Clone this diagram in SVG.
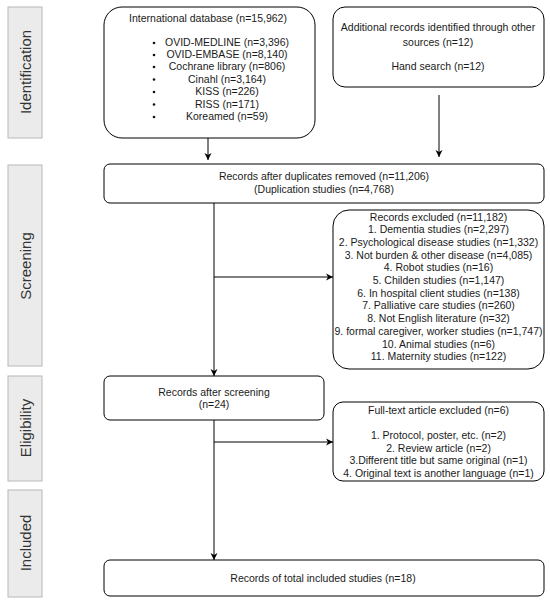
<svg xmlns="http://www.w3.org/2000/svg" width="550" height="603" viewBox="0 0 550 603">
<defs>
<marker id="ah" markerWidth="8" markerHeight="8" refX="7" refY="4" orient="auto" markerUnits="userSpaceOnUse">
<path d="M0,0.5 L7,4 L0,7.5 L2,4 Z" fill="#000"/>
</marker>
<style>
.stage{fill:#ebebeb;stroke:#b8b8b8;stroke-width:1}
.stl{font-family:"Liberation Sans",Arial,sans-serif;font-size:15px;fill:#333;text-anchor:middle}
.box{fill:#fff;stroke:#000;stroke-width:1}
.t{font-family:"Liberation Sans",Arial,sans-serif;font-size:10.5px;fill:#1a1a1a;text-anchor:middle}
.c{stroke:#000;stroke-width:1;fill:none}
</style>
</defs>
<rect width="550" height="603" fill="#fff"/>
<g id="stages">
<g id="stage-identification"><rect class="stage" x="8" y="7" width="34" height="131"/><text class="stl" transform="translate(30.5,72) rotate(-90)">Identification</text></g>
<g id="stage-screening"><rect class="stage" x="8" y="165" width="34" height="201"/><text class="stl" transform="translate(30.5,266) rotate(-90)">Screening</text></g>
<g id="stage-eligibility"><rect class="stage" x="8" y="376" width="34" height="105"/><text class="stl" transform="translate(30.5,428) rotate(-90)">Eligibility</text></g>
<g id="stage-included"><rect class="stage" x="8" y="490" width="34" height="107"/><text class="stl" transform="translate(30.5,543) rotate(-90)">Included</text></g>
</g>
<g id="connectors">
<line class="c" x1="208" y1="138" x2="208" y2="160" marker-end="url(#ah)"/>
<line class="c" x1="439" y1="95" x2="439" y2="157" marker-end="url(#ah)"/>
<line class="c" x1="214" y1="203" x2="214" y2="376" marker-end="url(#ah)"/>
<line class="c" x1="214" y1="277" x2="333" y2="277" marker-end="url(#ah)"/>
<line class="c" x1="214" y1="420" x2="214" y2="560" marker-end="url(#ah)"/>
<line class="c" x1="214" y1="442" x2="333" y2="442" marker-end="url(#ah)"/>
</g>
<g id="intl">
<rect class="box" x="104" y="7" width="211" height="131" rx="18"/>
<text class="t" x="208" y="22">International database (n=15,962)</text>
<g fill="#111"><circle cx="154" cy="43" r="1.3"/><circle cx="154" cy="55" r="1.3"/><circle cx="154" cy="67" r="1.3"/><circle cx="154" cy="79.5" r="1.3"/><circle cx="154" cy="92" r="1.3"/><circle cx="154" cy="104.5" r="1.3"/><circle cx="154" cy="117" r="1.3"/></g>
<text class="t" x="227" y="46">OVID-MEDLINE (n=3,396)</text>
<text class="t" x="227" y="58">OVID-EMBASE (n=8,140)</text>
<text class="t" x="227" y="70">Cochrane library (n=806)</text>
<text class="t" x="227" y="82.5">Cinahl (n=3,164)</text>
<text class="t" x="227" y="95">KISS (n=226)</text>
<text class="t" x="227" y="107.5">RISS (n=171)</text>
<text class="t" x="227" y="120">Koreamed (n=59)</text>
</g>
<g id="additional">
<rect class="box" x="333" y="7" width="211" height="80" rx="12"/>
<text class="t" x="438" y="31">Additional records identified through other</text>
<text class="t" x="438" y="46">sources (n=12)</text>
<text class="t" x="438" y="69.5">Hand search (n=12)</text>
</g>
<g id="duplicates">
<rect class="box" x="104" y="164" width="440" height="39" rx="6"/>
<text class="t" x="324" y="180">Records after duplicates removed (n=11,206)</text>
<text class="t" x="324" y="193">(Duplication studies (n=4,768)</text>
</g>
<g id="excluded">
<rect class="box" x="333" y="210" width="211" height="159" rx="16"/>
<text class="t" x="438.5" y="220.5">Records excluded (n=11,182)</text>
<text class="t" x="438.5" y="233.2">1. Dementia studies (n=2,297)</text>
<text class="t" x="438.5" y="245.9">2. Psychological disease studies (n=1,332)</text>
<text class="t" x="438.5" y="258.6">3. Not burden &amp; other disease (n=4,085)</text>
<text class="t" x="438.5" y="271.3">4. Robot studies (n=16)</text>
<text class="t" x="438.5" y="284">5. Childen studies (n=1,147)</text>
<text class="t" x="438.5" y="296.7">6. In hospital client studies (n=138)</text>
<text class="t" x="438.5" y="309.4">7. Palliative care studies (n=260)</text>
<text class="t" x="438.5" y="322.1">8. Not English literature (n=32)</text>
<text class="t" x="438.5" y="334.8">9. formal caregiver, worker studies (n=1,747)</text>
<text class="t" x="438.5" y="347.5">10. Animal studies (n=6)</text>
<text class="t" x="438.5" y="360.2">11. Maternity studies (n=122)</text>
</g>
<g id="after-screening">
<rect class="box" x="104" y="376" width="220" height="44" rx="6"/>
<text class="t" x="214" y="396">Records after screening</text>
<text class="t" x="214" y="408">(n=24)</text>
</g>
<g id="fulltext">
<rect class="box" x="333" y="402" width="211" height="79" rx="10"/>
<text class="t" x="438.5" y="413.5">Full-text article excluded (n=6)</text>
<text class="t" x="438.5" y="439">1. Protocol, poster, etc. (n=2)</text>
<text class="t" x="438.5" y="451.5">2. Review article (n=2)</text>
<text class="t" x="438.5" y="464">3.Different title but same original (n=1)</text>
<text class="t" x="438.5" y="476.7">4. Original text is another language (n=1)</text>
</g>
<g id="included">
<rect class="box" x="104" y="560" width="440" height="36" rx="6"/>
<text class="t" x="323" y="581.5">Records of total included studies (n=18)</text>
</g>
</svg>
